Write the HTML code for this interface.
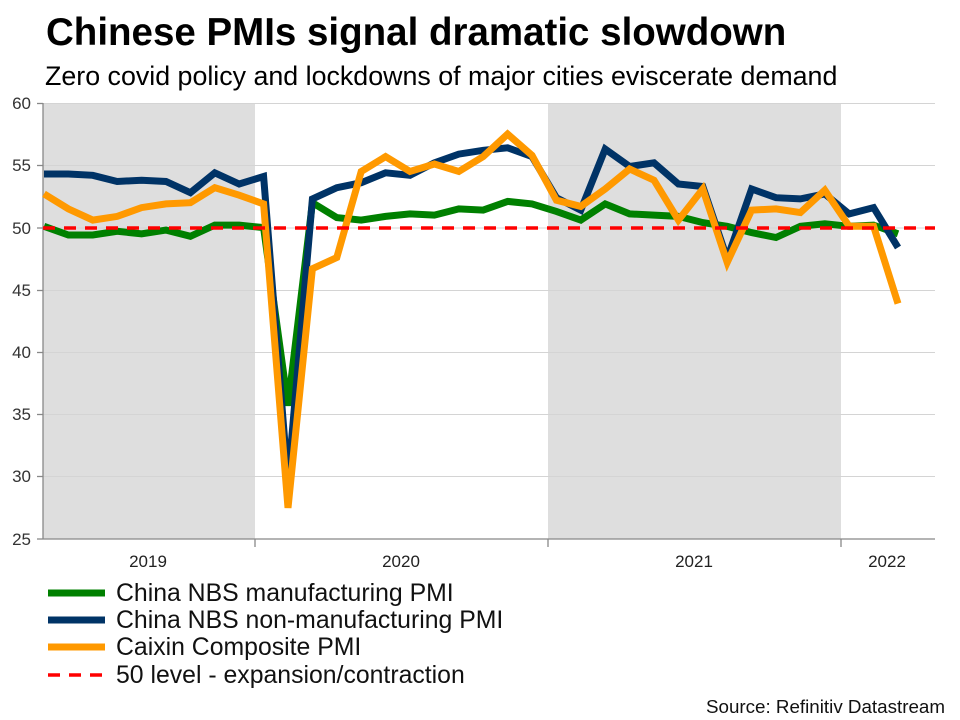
<!DOCTYPE html>
<html><head><meta charset="utf-8"><style>
body{margin:0;background:#fff;}
svg{display:block;font-family:"Liberation Sans",Arial,sans-serif;}
</style></head><body>
<svg width="960" height="720" viewBox="0 0 960 720" xmlns="http://www.w3.org/2000/svg">
<rect width="960" height="720" fill="#fff"/>
<text x="46" y="45" font-size="38.5" font-weight="bold" fill="#000">Chinese PMIs signal dramatic slowdown</text>
<text x="45" y="85" font-size="26.8" fill="#000">Zero covid policy and lockdowns of major cities eviscerate demand</text>
<rect x="43" y="103" width="212" height="436" fill="#dedede"/>
<rect x="548" y="103" width="293" height="436" fill="#dedede"/>
<g stroke="#d4d4d4" stroke-width="1">
<line x1="43" x2="935" y1="103.5" y2="103.5"/><line x1="43" x2="935" y1="165.5" y2="165.5"/>
<line x1="43" x2="935" y1="228" y2="228"/><line x1="43" x2="935" y1="290.5" y2="290.5"/>
<line x1="43" x2="935" y1="352.5" y2="352.5"/><line x1="43" x2="935" y1="414.5" y2="414.5"/>
<line x1="43" x2="935" y1="476.5" y2="476.5"/>
</g>
<g stroke="#888" stroke-width="1.3">
<line x1="43" x2="43" y1="103" y2="539"/><line x1="43" x2="935" y1="539" y2="539"/>
<line x1="255" x2="255" y1="539" y2="547"/><line x1="548" x2="548" y1="539" y2="547"/><line x1="841" x2="841" y1="539" y2="547"/>
<line x1="37" x2="43" y1="103.5" y2="103.5"/><line x1="37" x2="43" y1="165.5" y2="165.5"/><line x1="37" x2="43" y1="228" y2="228"/><line x1="37" x2="43" y1="290.5" y2="290.5"/><line x1="37" x2="43" y1="352.5" y2="352.5"/><line x1="37" x2="43" y1="414.5" y2="414.5"/><line x1="37" x2="43" y1="476.5" y2="476.5"/><line x1="37" x2="43" y1="539" y2="539"/>
</g>
<g font-size="17" fill="#333" text-anchor="end">
<text x="31" y="109">60</text><text x="31" y="171">55</text><text x="31" y="234">50</text><text x="31" y="296">45</text><text x="31" y="358">40</text><text x="31" y="420">35</text><text x="31" y="482">30</text><text x="31" y="545">25</text>
</g>
<g font-size="17" fill="#222" text-anchor="middle">
<text x="148" y="567">2019</text><text x="401" y="567">2020</text><text x="694" y="567">2021</text><text x="887" y="567">2022</text>
</g>
<g id="series" fill="none" stroke-width="7" stroke-linejoin="miter"></g>
<line x1="43" x2="935" y1="228" y2="228" stroke="#ff0000" stroke-width="3.5" stroke-dasharray="12 9"/>
<g stroke-width="7">
<line x1="48" x2="105" y1="593" y2="593" stroke="#008000"/>
<line x1="48" x2="105" y1="620" y2="620" stroke="#003366"/>
<line x1="48" x2="105" y1="647" y2="647" stroke="#ff9900"/>
<line x1="48" x2="105" y1="675" y2="675" stroke="#ff0000" stroke-width="3.5" stroke-dasharray="12 9"/>
</g>
<g font-size="24.8" fill="#111">
<text x="116" y="601">China NBS manufacturing PMI</text>
<text x="116" y="628">China NBS non-manufacturing PMI</text>
<text x="116" y="655">Caixin Composite PMI</text>
<text x="116" y="683">50 level - expansion/contraction</text>
</g>
<text x="945" y="713" font-size="18.8" fill="#111" text-anchor="end">Source: Refinitiv Datastream</text>
<script>
var mfg=[50.1,49.4,49.4,49.7,49.5,49.8,49.3,50.2,50.2,50.0,35.7,52.0,50.8,50.6,50.9,51.1,51.0,51.5,51.4,52.1,51.9,51.3,50.6,51.9,51.1,51.0,50.9,50.4,50.1,49.6,49.2,50.1,50.3,50.1,50.2,49.5];
var nm=[54.3,54.3,54.2,53.7,53.8,53.7,52.8,54.4,53.5,54.1,29.6,52.3,53.2,53.6,54.4,54.2,55.2,55.9,56.2,56.4,55.7,52.4,51.4,56.3,54.9,55.2,53.5,53.3,47.5,53.1,52.4,52.3,52.7,51.1,51.6,48.4];
var cx=[52.7,51.5,50.6,50.9,51.6,51.9,52.0,53.2,52.6,51.9,27.5,46.7,47.6,54.5,55.7,54.5,55.1,54.5,55.7,57.5,55.8,52.2,51.7,53.1,54.7,53.8,50.6,53.1,47.2,51.4,51.5,51.2,53.0,50.1,50.1,43.9];
var g=document.getElementById('series');
function add(d,c){var p=d.map(function(v,i){return (44+24.4*i).toFixed(1)+','+(103+(60-v)*12.457).toFixed(1)}).join(' ');
var e=document.createElementNS('http://www.w3.org/2000/svg','polyline');e.setAttribute('points',p);e.setAttribute('stroke',c);g.appendChild(e);}
add(mfg,'#008000');add(nm,'#003366');add(cx,'#ff9900');
</script>
</svg>
</body></html>
